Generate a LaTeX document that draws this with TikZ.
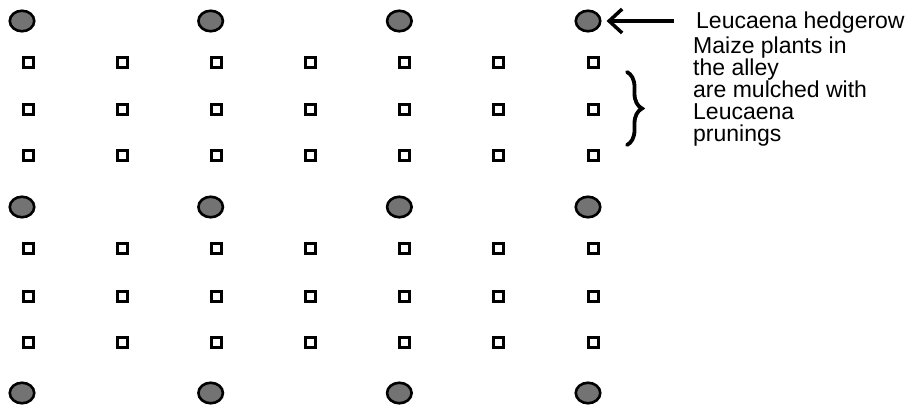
\documentclass[tikz,border=0pt]{standalone}
\usepackage{fontspec}
\setmainfont{Liberation Sans}
\usetikzlibrary{shapes.geometric,arrows.meta,decorations.pathreplacing}
\begin{document}
\begin{tikzpicture}[x=1pt,y=-1pt,
  hedge/.style={ellipse,draw=black,line width=2.6pt,fill=black!55,minimum width=24.5pt,minimum height=20.5pt,inner sep=0pt},
  maize/.style={rectangle,draw=black,line width=3pt,fill=white,minimum size=10pt,inner sep=0pt},
  lbl/.style={font=\fontsize{23}{21.8}\selectfont,inner sep=0pt,align=left}]
\useasboundingbox (0,0) rectangle (920,407);
\foreach \r/\y in {1/21,2/207,3/393}
  \foreach \c in {1,...,4}
    \node[hedge] (h\r\c) at ({22+188.67*(\c-1)},\y) {};
\foreach \r/\y in {1/62,2/109,3/155,4/248,5/296,6/342}
  \foreach \c in {1,...,7}
    \node[maize] (m\r\c) at ({28+94.17*(\c-1)},\y) {};
\node[lbl,anchor=base west] (lh) at (696,28) {Leucaena hedgerow};
\node[lbl,anchor=north west] (lm) at (693,37) {Maize plants in\\the alley\\are mulched with\\Leucaena\\prunings};
\coordinate (a0) at (674,21);
\draw[line width=3.5pt,-{Straight Barb[length=13pt,width=24pt]},shorten >=5pt] (a0) -- (h14);
\coordinate (bt) at (627,72);
\coordinate (bb) at (627,145);
\draw[line width=3.8pt,line cap=round,decorate,decoration={brace,amplitude=15pt,aspect=0.5}] (bt) -- (bb);
\end{tikzpicture}
\end{document}
